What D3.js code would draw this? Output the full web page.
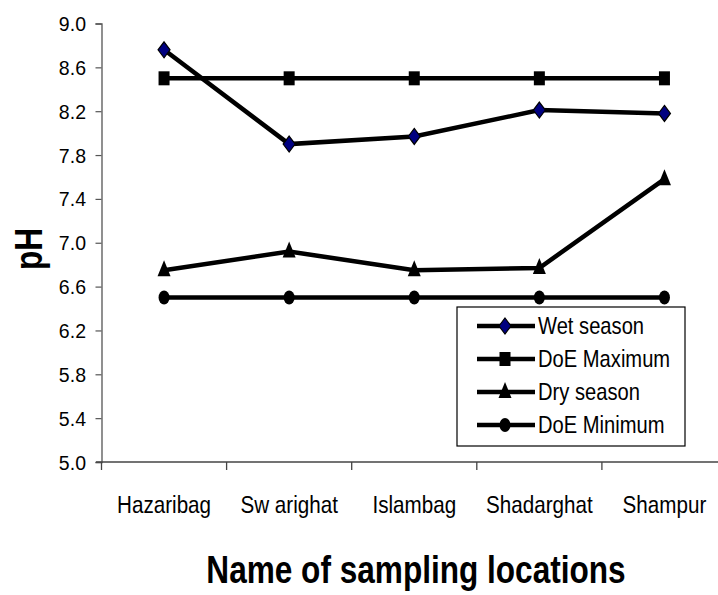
<!DOCTYPE html>
<html>
<head>
<meta charset="utf-8">
<script src="https://cdn.jsdelivr.net/npm/d3@7"></script>
<style>
body { margin: 0; background: #fff; }
svg { display: block; }
text { font-family: "Liberation Sans", Arial, sans-serif; }
</style>
</head>
<body>
<div id="chart"></div>
<script>
var width = 718,
height = 595;

var locations = ["Hazaribag", "Sw arighat", "Islambag", "Shadarghat", "Shampur"];
var wetSeason = [8.76, 7.90, 7.97, 8.21, 8.18];
var doeMaximum = [8.5, 8.5, 8.5, 8.5, 8.5];
var drySeason = [6.75, 6.92, 6.75, 6.77, 7.58];
var doeMinimum = [6.5, 6.5, 6.5, 6.5, 6.5];
var yTicks = [5.0, 5.4, 5.8, 6.2, 6.6, 7.0, 7.4, 7.8, 8.2, 8.6, 9.0];

var series = [
	{ name: "Wet season", values: wetSeason, marker: "diamond" },
	{ name: "DoE Maximum", values: doeMaximum, marker: "square" },
	{ name: "Dry season", values: drySeason, marker: "triangle" },
	{ name: "DoE Minimum", values: doeMinimum, marker: "circle" }
];

var svg = d3.select("#chart")
.append("svg")
.attr("width", width)
.attr("height", height);

var xScale = d3.scaleBand()
.domain(locations)
.range([101.5, 727]);

var yScale = d3.scaleLinear()
.domain([5.0, 9.0])
.range([462, 23.5]);

function cx(d, i) { return xScale(locations[i]) + xScale.bandwidth() / 2; }

// text squeezed sideways, to look like a narrow font
function narrowText(parent, x, y, k, rot) {
	var g = parent.append("g")
	.attr("transform", "translate(" + x + "," + y + ")" + (rot ? " rotate(" + rot + ")" : "") + " scale(" + k + ",1)");
	return g.append("text");
}

// y axis
var yAxis = d3.axisLeft(yScale)
.tickValues(yTicks)
.tickSize(6)
.tickFormat("");

var gy = svg.append("g")
.attr("transform", "translate(101.5,0)")
.call(yAxis);
gy.select(".domain").attr("stroke", "#555").attr("stroke-width", 1.3);
gy.selectAll(".tick line").attr("stroke", "#555").attr("stroke-width", 1.2);

yTicks.forEach(function(v) {
	narrowText(svg, 86, yScale(v) + 7.5, 0.93)
	.attr("text-anchor", "end")
	.attr("font-size", 21)
	.text(d3.format(".1f")(v));
});

// x axis line & boundary ticks
svg.append("line")
.attr("x1", 96).attr("x2", 718)
.attr("y1", yScale(5.0)).attr("y2", yScale(5.0))
.attr("stroke", "#444").attr("stroke-width", 1.3);

svg.selectAll(".xtick")
.data(locations)
.enter()
.append("line")
.attr("class", "xtick")
.attr("x1", function(d) { return xScale(d); })
.attr("x2", function(d) { return xScale(d); })
.attr("y1", yScale(5.0))
.attr("y2", yScale(5.0) + 8)
.attr("stroke", "#444")
.attr("stroke-width", 1.3);

locations.forEach(function(d) {
	narrowText(svg, xScale(d) + xScale.bandwidth() / 2, 512.5, 0.86)
	.attr("text-anchor", "middle")
	.attr("font-size", 24)
	.text(d);
});

// axis titles
narrowText(svg, 416, 583, 0.81)
.attr("text-anchor", "middle")
.attr("font-size", 39)
.attr("font-weight", "bold")
.text("Name of sampling locations");

narrowText(svg, 42, 249, 0.81, -90)
.attr("text-anchor", "middle")
.attr("font-size", 39)
.attr("font-weight", "bold")
.text("pH");

// markers
function drawMarker(g, type, x, y) {
	if (type == "diamond") {
		g.append("path")
		.attr("d", "M" + x + "," + (y - 8) + "L" + (x + 6) + "," + y + "L" + x + "," + (y + 8) + "L" + (x - 6) + "," + y + "Z")
		.attr("fill", "#000080")
		.attr("stroke", "#000")
		.attr("stroke-width", 1.2);
	} else if (type == "square") {
		g.append("rect")
		.attr("x", x - 5.5).attr("y", y - 7)
		.attr("width", 11).attr("height", 14)
		.attr("fill", "#000");
	} else if (type == "triangle") {
		g.append("path")
		.attr("d", "M" + x + "," + (y - 10) + "L" + (x + 6.5) + "," + (y + 6) + "L" + (x - 6.5) + "," + (y + 6) + "Z")
		.attr("fill", "#000");
	} else {
		g.append("ellipse")
		.attr("cx", x).attr("cy", y)
		.attr("rx", 5.5).attr("ry", 7)
		.attr("fill", "#000");
	}
}

var line = d3.line()
.x(function(d, i) { return cx(d, i); })
.y(function(d) { return yScale(d); });

// lowest legend entry drawn first, wet season on top
var drawOrder = [3, 2, 1, 0];
drawOrder.forEach(function(k) {
	var s = series[k];
	var g = svg.append("g");
	g.append("path")
	.datum(s.values)
	.attr("d", line)
	.attr("fill", "none")
	.attr("stroke", "#000")
	.attr("stroke-width", 4.5);
	s.values.forEach(function(v, i) {
		drawMarker(g, s.marker, cx(v, i), yScale(v));
	});
});

// legend
var legend = svg.append("g");
legend.append("rect")
.attr("x", 457).attr("y", 307)
.attr("width", 228).attr("height", 139)
.attr("fill", "#fff")
.attr("stroke", "#000")
.attr("stroke-width", 1.2);

series.forEach(function(s, i) {
	var y = 326 + i * 33;
	var g = legend.append("g");
	g.append("line")
	.attr("x1", 477).attr("x2", 535)
	.attr("y1", y).attr("y2", y)
	.attr("stroke", "#000")
	.attr("stroke-width", 4.5);
	drawMarker(g, s.marker, 505, y);
	narrowText(g, 538, y + 8, 0.84)
	.attr("font-size", 24)
	.text(s.name);
});
</script>
</body>
</html>
